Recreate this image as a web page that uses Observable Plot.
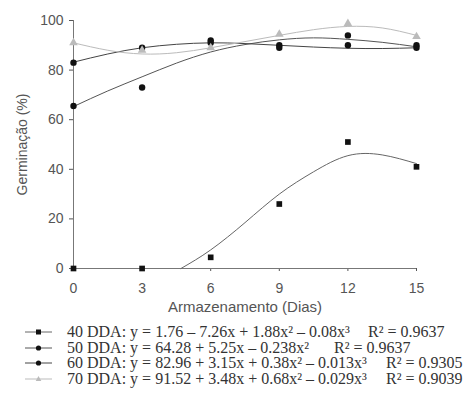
<!DOCTYPE html>
<html><head><meta charset="utf-8">
<script src="https://cdn.jsdelivr.net/npm/d3@7"></script>
<script src="https://cdn.jsdelivr.net/npm/@observablehq/plot@0.6"></script>
<style>
body{margin:0;background:#fff;}
#wrap{position:relative;width:464px;height:409px;overflow:hidden;background:#fff;}
#legend{position:absolute;left:0;top:324px;width:464px;font-family:"Liberation Serif","Times New Roman",serif;font-size:16px;color:#333;}
.row{position:relative;height:15.6px;line-height:15.6px;white-space:nowrap}
.row svg{position:absolute;left:24px;top:1px}
.row .eq{position:absolute;left:67px;top:0}
.row .r2{position:absolute;top:0}
</style></head><body><div id="wrap"><div id="chart"></div><div id="legend"></div></div>
<script>
// observed points
const days = [0, 3, 6, 9, 12, 15];
const obs40 = [0, 0, 4.5, 26, 51, 41];
const obs50 = [65.5, 73, 92, 90, 94, 90];
const obs60 = [83, 89, 91, 89, 90, 89];
const obs70 = [91, 88, 89, 94.5, 98.8, 93.5];
// fitted curves
const fit40X = [4.7, 6, 7.5, 9, 10.5, 12, 13.5, 15];
const fit40Y = [0, 7.5, 18.5, 30, 39, 45.5, 45.8, 42.3];
const fitX = [0, 1.5, 3, 4.5, 6, 7.5, 9, 10.5, 12, 13.5, 15];
const fit50 = [65.3, 71.6, 77.3, 82.8, 87.3, 90.3, 92.2, 93, 92.4, 91.2, 89.4];
const fit60 = [83.2, 86.5, 89, 90.4, 91, 90.7, 90, 89.3, 88.8, 88.7, 89];
const fit70 = [91, 88, 86.5, 87, 89, 91.5, 94, 96.3, 97.6, 97, 94];
const xTicks = [0, 3, 6, 9, 12, 15];
const yTicks = [0, 20, 40, 60, 80, 100];
const seriesNames = ["40 DDA", "50 DDA", "60 DDA", "70 DDA"];
const equations = [
  "40 DDA: y = 1.76 – 7.26x + 1.88x² – 0.08x³",
  "50 DDA: y = 64.28 + 5.25x – 0.238x²",
  "60 DDA: y = 82.96 + 3.15x + 0.38x² – 0.013x³",
  "70 DDA: y = 91.52 + 3.48x + 0.68x² – 0.029x³"
];
const r2 = ["R² = 0.9637", "R² = 0.9637", "R² = 0.9305", "R² = 0.9039"];

const lineColor = ["#666", "#555", "#444", "#bbb"];
const dotColor = ["#111", "#111", "#111", "#bbb"];
const symbols = ["square", "circle", "circle", "triangle"];
const r2Left = [368, 334, 386, 386];

const obsAll = [obs40, obs50, obs60, obs70];
const fitAll = [fit50, fit60, fit70];

const marks = [];
marks.push(Plot.ruleY([0], {stroke: "#777"}));
marks.push(Plot.ruleX([0], {stroke: "#777"}));
const c40 = fit40X.map((x, i) => ({x, y: fit40Y[i]}));
marks.push(Plot.line(c40, {x: "x", y: "y", curve: "natural", stroke: lineColor[0], strokeWidth: 1}));
fitAll.forEach((arr, k) => {
  const d = fitX.map((x, i) => ({x, y: arr[i]}));
  marks.push(Plot.line(d, {x: "x", y: "y", curve: "natural", stroke: lineColor[k + 1], strokeWidth: 1}));
});
obsAll.forEach((arr, k) => {
  const d = days.map((x, i) => ({x, y: arr[i]}));
  marks.push(Plot.dot(d, {x: "x", y: "y", symbol: () => symbols[k], r: 3.2, fill: dotColor[k], stroke: "none"}));
});

const chart = Plot.plot({
  width: 464, height: 315,
  marginLeft: 73, marginRight: 48, marginTop: 20, marginBottom: 47,
  style: {fontFamily: "'Liberation Sans', Arial, sans-serif", fontSize: "14px", color: "#555", background: "#fff", overflow: "visible"},
  x: {domain: [0, 15], ticks: xTicks, tickSize: 3, tickPadding: 12, label: "Armazenamento (Dias)", labelAnchor: "center", labelOffset: 43, labelArrow: "none"},
  y: {domain: [0, 100], ticks: yTicks, tickSize: 4, tickPadding: 6, label: "Germinação (%)", labelAnchor: "center", labelOffset: 56, labelArrow: "none"},
  marks
});
document.getElementById("chart").appendChild(chart);
// slightly wider axis title, as in the reference
chart.querySelectorAll("[aria-label='x-axis label'] text").forEach(t => t.style.fontSize = "15px");

const leg = document.getElementById("legend");
seriesNames.forEach((name, k) => {
  const row = document.createElement("div");
  row.className = "row";
  const sym = symbols[k];
  let m = "";
  if (sym === "square") m = `<rect x="12" y="4.5" width="5" height="5" fill="${dotColor[k]}"/>`;
  else if (sym === "circle") m = `<circle cx="14.5" cy="7" r="2.6" fill="${dotColor[k]}"/>`;
  else m = `<path d="M14.5,4 L17.3,9 L11.7,9 Z" fill="${dotColor[k]}"/>`;
  row.innerHTML = `<svg width="30" height="14"><line x1="1" x2="28" y1="7" y2="7" stroke="${lineColor[k]}" stroke-width="1"/>${m}</svg>` +
    `<span class="eq">${equations[k]}</span><span class="r2" style="left:${r2Left[k]}px">${r2[k]}</span>`;
  leg.appendChild(row);
});
</script>
</body></html>
